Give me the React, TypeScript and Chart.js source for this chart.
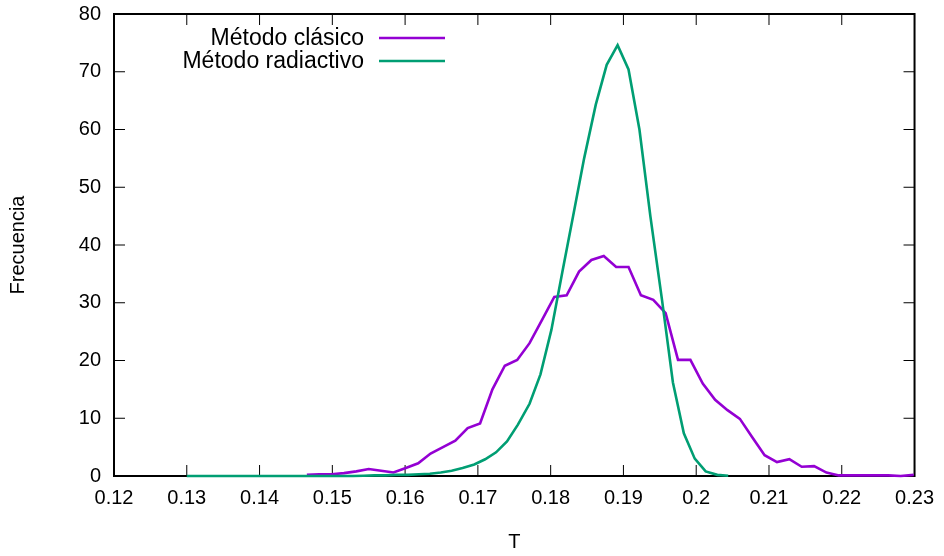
import React, { useEffect, useRef } from "react";
import { Chart, registerables } from "chart.js";

Chart.register(...registerables);

// Axis ticks
const tickT = [0.12, 0.13, 0.14, 0.15, 0.16, 0.17, 0.18, 0.19, 0.2, 0.21, 0.22, 0.23];
const tickFrec = [0, 10, 20, 30, 40, 50, 60, 70, 80];

// Series names
const seriesNames = ["Método clásico", "Método radiactivo"];

// Método clásico: period T and frequency
const clasicoT = [
  0.1465, 0.1482, 0.1499, 0.1516, 0.1533, 0.155, 0.1567, 0.1584, 0.1601, 0.1618,
  0.1635, 0.1652, 0.1669, 0.1686, 0.1703, 0.172, 0.1737, 0.1754, 0.1771, 0.1788,
  0.1805, 0.1822, 0.1839, 0.1856, 0.1873, 0.189, 0.1907, 0.1924, 0.1941, 0.1958,
  0.1975, 0.1992, 0.2009, 0.2026, 0.2043, 0.206, 0.2077, 0.2094, 0.2111, 0.2128,
  0.2145, 0.2162, 0.2179, 0.2196, 0.2213, 0.223, 0.2247, 0.2264, 0.2281, 0.2299,
];
const clasicoFrec = [
  0.2, 0.3, 0.3, 0.5, 0.8, 1.2, 0.9, 0.6, 1.4, 2.2,
  3.9, 5.0, 6.1, 8.3, 9.1, 15.0, 19.1, 20.1, 23.0, 27.0,
  31.0, 31.3, 35.4, 37.4, 38.1, 36.2, 36.2, 31.3, 30.5, 28.2,
  20.1, 20.1, 16.0, 13.2, 11.4, 9.9, 6.7, 3.6, 2.4, 2.9,
  1.6, 1.7, 0.6, 0.1, 0.1, 0.1, 0.1, 0.1, 0.0, 0.2,
];

// Método radiactivo: period T and frequency
const radiactivoT = [
  0.13, 0.1315, 0.133, 0.1346, 0.1361, 0.1376, 0.1391, 0.1406, 0.1421, 0.1437,
  0.1452, 0.1467, 0.1482, 0.1497, 0.1512, 0.1528, 0.1543, 0.1558, 0.1573, 0.1588,
  0.1604, 0.1619, 0.1634, 0.1649, 0.1664, 0.1679, 0.1695, 0.171, 0.1725, 0.174,
  0.1755, 0.1771, 0.1786, 0.1801, 0.1816, 0.1831, 0.1846, 0.1862, 0.1877, 0.1892,
  0.1907, 0.1922, 0.1937, 0.1953, 0.1968, 0.1983, 0.1998, 0.2013, 0.2029, 0.2044,
];
const radiactivoFrec = [
  0, 0, 0, 0, 0, 0, 0, 0, 0, 0,
  0, 0, 0, 0, 0, 0, 0.05, 0.1, 0.1, 0.2,
  0.2, 0.3, 0.4, 0.6, 0.9, 1.4, 2.0, 2.9, 4.1, 6.0,
  8.9, 12.5, 17.6, 25.3, 35.3, 45.1, 55.0, 64.3, 71.2, 74.6,
  70.4, 60.0, 45.0, 30.5, 16.2, 7.4, 3.0, 0.8, 0.2, 0.05,
];

const COLOR_CLASICO = "#9400d3";
const COLOR_RADIACTIVO = "#009e73";
const FONT_FAMILY = "'Liberation Sans', Arial, Helvetica, sans-serif";
const LINE_W = 2.6;

const toPoints = (xs: number[], ys: number[]) => xs.map((x, i) => ({ x, y: ys[i] }));

// Border with inward, mirrored ticks drawn behind the curves
const framePlugin = {
  id: "frame",
  beforeDatasetsDraw(chart: any) {
    const { ctx, chartArea: a, scales } = chart;
    const xs = scales.x;
    const ys = scales.y;
    const len = 11;
    ctx.save();
    ctx.strokeStyle = "#000";
    ctx.lineWidth = 1;
    ctx.beginPath();
    tickT.forEach((v) => {
      const px = xs.getPixelForValue(v);
      ctx.moveTo(px, a.bottom);
      ctx.lineTo(px, a.bottom - len);
      ctx.moveTo(px, a.top);
      ctx.lineTo(px, a.top + len);
    });
    tickFrec.forEach((v) => {
      const py = ys.getPixelForValue(v);
      ctx.moveTo(a.left, py);
      ctx.lineTo(a.left + len, py);
      ctx.moveTo(a.right, py);
      ctx.lineTo(a.right - len, py);
    });
    ctx.stroke();
    ctx.lineWidth = 2;
    ctx.strokeRect(a.left, a.top, a.right - a.left, a.bottom - a.top);
    ctx.restore();
  },
};

// Key in the upper left: right-aligned text followed by a line sample
const keyPlugin = {
  id: "key",
  afterDatasetsDraw(chart: any) {
    const { ctx } = chart;
    const textRight = 364;
    const sampleX0 = 379;
    const sampleX1 = 445;
    const y0 = 38;
    const dy = 23;
    ctx.save();
    ctx.font = `23px ${FONT_FAMILY}`;
    ctx.textAlign = "right";
    ctx.textBaseline = "middle";
    seriesNames.forEach((name, k) => {
      const ds = chart.data.datasets.find((d: any) => d.label === name);
      const y = y0 + k * dy;
      ctx.fillStyle = "#000";
      ctx.fillText(name, textRight, y + 1);
      ctx.strokeStyle = ds.borderColor;
      ctx.lineWidth = LINE_W;
      ctx.beginPath();
      ctx.moveTo(sampleX0, y);
      ctx.lineTo(sampleX1, y);
      ctx.stroke();
    });
    ctx.restore();
  },
};

function FrequencyChart() {
  const canvasRef = useRef<HTMLCanvasElement | null>(null);

  useEffect(() => {
    const canvas = canvasRef.current;
    if (!canvas) return;
    Chart.defaults.font.family = FONT_FAMILY;
    Chart.defaults.font.size = 20;
    Chart.defaults.color = "#000";

    const chart = new Chart(canvas, {
      type: "line",
      data: {
        datasets: [
          {
            label: seriesNames[0],
            data: toPoints(clasicoT, clasicoFrec),
            borderColor: COLOR_CLASICO,
            backgroundColor: COLOR_CLASICO,
            borderWidth: LINE_W,
            pointRadius: 0,
            tension: 0,
            fill: false,
            clip: false,
            order: 2,
          },
          {
            label: seriesNames[1],
            data: toPoints(radiactivoT, radiactivoFrec),
            borderColor: COLOR_RADIACTIVO,
            backgroundColor: COLOR_RADIACTIVO,
            borderWidth: LINE_W,
            pointRadius: 0,
            tension: 0,
            fill: false,
            clip: false,
            order: 1,
          },
        ],
      },
      options: {
        responsive: false,
        animation: false,
        events: [],
        layout: { padding: { top: 14, right: 26, left: 0, bottom: 0 } },
        plugins: {
          legend: { display: false },
          tooltip: { enabled: false },
        },
        scales: {
          x: {
            type: "linear",
            min: tickT[0],
            max: tickT[tickT.length - 1],
            grid: { display: false, drawTicks: false },
            border: { display: false },
            afterBuildTicks: (scale: any) => {
              scale.ticks = tickT.map((v) => ({ value: v }));
            },
            afterFit: (scale: any) => {
              scale.height = 80;
            },
            ticks: {
              padding: 10,
              maxRotation: 0,
              autoSkip: false,
              callback: (v: any) => String(Number(Number(v).toFixed(2))),
            },
            title: {
              display: true,
              text: "T",
              font: { size: 20, lineHeight: 1.2 },
              padding: { top: 0, bottom: 2 },
            },
          },
          y: {
            type: "linear",
            min: tickFrec[0],
            max: tickFrec[tickFrec.length - 1],
            grid: { display: false, drawTicks: false },
            border: { display: false },
            afterBuildTicks: (scale: any) => {
              scale.ticks = tickFrec.map((v) => ({ value: v }));
            },
            afterFit: (scale: any) => {
              scale.width = 114;
              scale.paddingTop = 0;
              scale.paddingBottom = 0;
            },
            ticks: {
              padding: 13,
              autoSkip: false,
              callback: (v: any) => String(v),
            },
            title: {
              display: true,
              text: "Frecuencia",
              font: { size: 20, lineHeight: 1.2 },
              padding: { top: 6, bottom: 0 },
            },
          },
        },
      },
      plugins: [framePlugin, keyPlugin],
    });

    return () => {
      chart.destroy();
    };
  }, []);

  return (
    <div style={{ position: "absolute", left: 0, top: 0, width: 944, height: 556, background: "#fff" }}>
      <canvas ref={canvasRef} width={944} height={556} />
    </div>
  );
}

export default function App() {
  return <FrequencyChart />;
}
